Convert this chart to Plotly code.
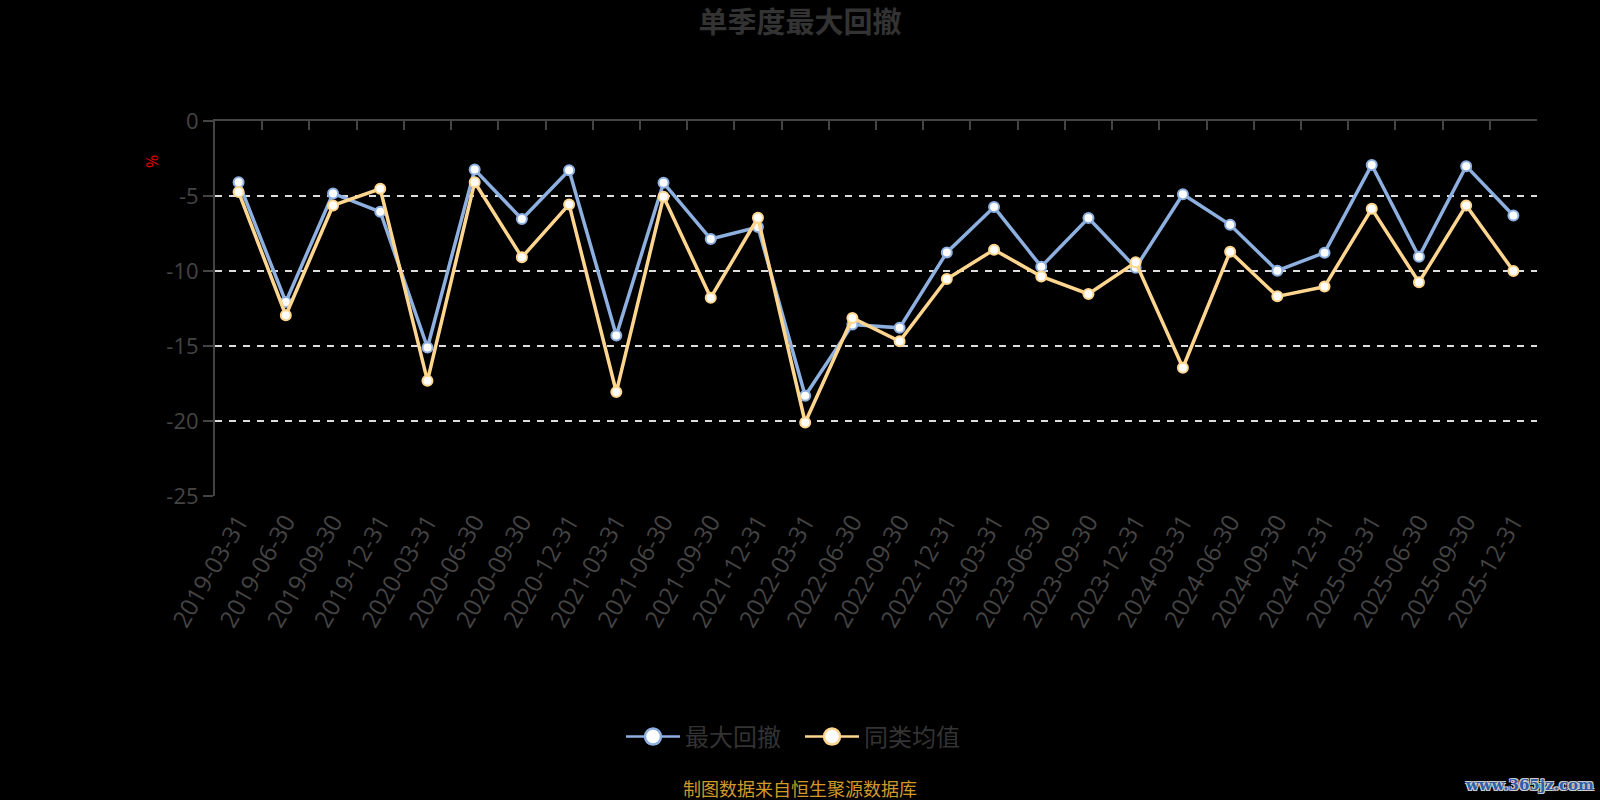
import plotly.graph_objects as go

categories = ["2019-03-31", "2019-06-30", "2019-09-30", "2019-12-31",
              "2020-03-31", "2020-06-30", "2020-09-30", "2020-12-31",
              "2021-03-31", "2021-06-30", "2021-09-30", "2021-12-31",
              "2022-03-31", "2022-06-30", "2022-09-30", "2022-12-31",
              "2023-03-31", "2023-06-30", "2023-09-30", "2023-12-31",
              "2024-03-31", "2024-06-30", "2024-09-30", "2024-12-31",
              "2025-03-31", "2025-06-30", "2025-09-30", "2025-12-31"]

max_drawdown = [-4.08, -12.06, -4.83, -6.05, -15.10, -3.24, -6.54, -3.28,
                -14.30, -4.12, -7.87, -7.07, -18.32, -13.57, -13.79, -8.76,
                -5.74, -9.71, -6.47, -9.78, -4.88, -6.92, -9.98, -8.78,
                -2.93, -9.05, -3.01, -6.30]

peer_avg = [-4.74, -12.95, -5.63, -4.52, -17.32, -4.08, -9.09, -5.56,
            -18.07, -5.05, -11.78, -6.45, -20.10, -13.13, -14.68, -10.53,
            -8.58, -10.36, -11.53, -9.42, -16.45, -8.71, -11.69, -11.04,
            -5.85, -10.75, -5.63, -10.00]

y_ticks = [0, -5, -10, -15, -20, -25]

series_names = ["最大回撤", "同类均值"]
colors = ["#8DB0E0", "#FFD68F"]

FONT = "Open Sans, Noto Sans CJK SC, sans-serif"
CJK = "Noto Sans CJK SC, sans-serif"

fig = go.Figure()

for name, vals, col in zip(series_names, [max_drawdown, peer_avg], colors):
    fig.add_trace(go.Scatter(
        x=categories, y=vals, name=name, mode="lines+markers",
        line=dict(color=col, width=3.5),
        marker=dict(size=10, color="white", line=dict(color=col, width=2)),
        showlegend=False,
    ))

# legend entries with larger symbols
for name, col in zip(series_names, colors):
    fig.add_trace(go.Scatter(
        x=[None], y=[None], name=name, mode="lines+markers",
        line=dict(color=col, width=2.5),
        marker=dict(size=16, color="white", line=dict(color=col, width=2.5)),
        showlegend=True, hoverinfo="skip",
    ))

# dummy trace to activate the top axis (axis line + boundary ticks at y=0)
fig.add_trace(go.Scatter(x=categories, y=[None] * len(categories), xaxis="x2",
                         showlegend=False, hoverinfo="skip", mode="lines"))

fig.update_layout(
    width=1600, height=800,
    paper_bgcolor="black", plot_bgcolor="black",
    margin=dict(l=215, r=63, t=121, b=304),
    font=dict(family=FONT, color="#444444"),
    title=dict(text="<b>单季度最大回撤</b>", x=0.5, xanchor="center",
               y=1 - 23 / 800, yanchor="middle",
               font=dict(family=CJK, size=29, color="#333333")),
    xaxis=dict(type="category", range=[-0.5, len(categories) - 0.5],
               showline=False, ticks="", showgrid=False, zeroline=False,
               tickangle=-60, ticklabelstandoff=6,
               tickfont=dict(size=24, color="#444444", family=FONT)),
    xaxis2=dict(type="category", overlaying="x", side="top", matches="x",
                range=[-0.5, len(categories) - 0.5],
                showline=True, linecolor="#444444", linewidth=2,
                ticks="inside", ticklen=9, tickcolor="#444444", tickwidth=2,
                tickson="boundaries", showticklabels=False, showgrid=False,
                zeroline=False),
    yaxis=dict(range=[-25, 0], tickvals=y_ticks, ticktext=[str(v) for v in y_ticks],
               showline=True, linecolor="#444444", linewidth=2,
               ticks="outside", ticklen=10, tickcolor="#444444", tickwidth=2,
               showgrid=True, gridcolor="#DDDDDD", gridwidth=1.5, griddash="7px,7px",
               zeroline=False, tickfont=dict(size=22, color="#444444", family=FONT)),
    legend=dict(orientation="h", x=0.5, xanchor="center", xref="container",
                y=1 - 737 / 800, yanchor="middle", yref="container",
                font=dict(family=CJK, size=24, color="#333333"),
                bgcolor="rgba(0,0,0,0)", itemsizing="trace", itemwidth=54,
                entrywidth=110),
    annotations=[
        dict(text="%", xref="paper", yref="paper", x=(152 - 215) / 1322,
             y=(496 - 162) / 375, showarrow=False, textangle=-90,
             xanchor="center", yanchor="middle",
             font=dict(size=16, color="#E00000", family=FONT)),
        dict(text="制图数据来自恒生聚源数据库", xref="paper", yref="paper",
             x=(800 - 215) / 1322, y=(496 - 788) / 375, showarrow=False,
             xanchor="center", yanchor="middle",
             font=dict(size=18, color="#D09A2A", family=CJK)),
        dict(text="<b>www.365jz.com</b>", xref="paper", yref="paper",
             x=(1596 - 215) / 1322, y=(496 - 785) / 375, showarrow=False,
             xanchor="right", yanchor="middle",
             font=dict(size=15, color="#2F5DA8", family="DejaVu Serif, serif",
                       shadow="1px 1px 0 #ccc, -1px -1px 0 #ccc, 1px -1px 0 #ccc, -1px 1px 0 #ccc")),
    ],
)

fig.write_html("out.html", config={"displayModeBar": False},
               post_script="document.body.style.margin='0';"
                           "document.body.style.background='black';")
